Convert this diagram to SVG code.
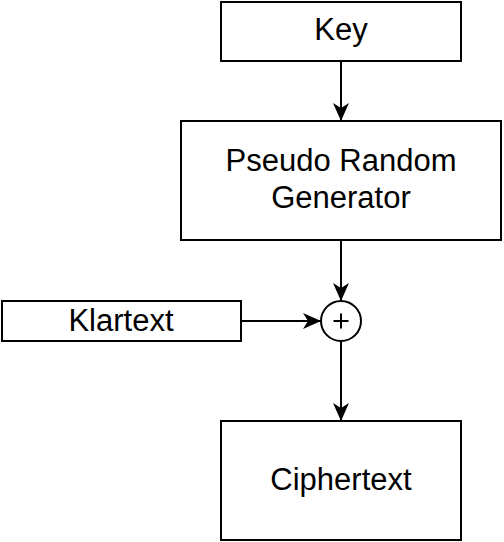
<svg xmlns="http://www.w3.org/2000/svg" width="504" height="542" viewBox="0 0 504 542">
<defs>
<style>
.box{fill:#fff;stroke:#000;stroke-width:2}
.lbl{font-family:"Liberation Sans",Arial,sans-serif;font-size:31px;fill:#000;text-anchor:middle}
.conn{fill:none;stroke:#000;stroke-width:2}
</style>
<marker id="arr" viewBox="0 0 18 16" refX="17" refY="8" markerWidth="18" markerHeight="16" markerUnits="userSpaceOnUse" orient="auto">
<path d="M0,0 L18,8 L0,16 L5,8 Z" fill="#000"/>
</marker>
</defs>
<rect width="504" height="542" fill="#fff"/>
<g id="connectors">
<line class="conn" x1="341" y1="61" x2="341" y2="120" marker-end="url(#arr)"/>
<line class="conn" x1="341" y1="240" x2="341" y2="300" marker-end="url(#arr)"/>
<line class="conn" x1="241" y1="321" x2="320" y2="321" marker-end="url(#arr)"/>
<line class="conn" x1="341" y1="342" x2="341" y2="420" marker-end="url(#arr)"/>
</g>
<g id="key">
<rect class="box" x="221" y="2" width="240" height="59"/>
<text class="lbl" x="341" y="40">Key</text>
</g>
<g id="prg">
<rect class="box" x="181" y="121" width="320" height="119"/>
<text class="lbl" x="341" y="171">Pseudo Random</text>
<text class="lbl" x="341" y="208">Generator</text>
</g>
<g id="klartext">
<rect class="box" x="2" y="301" width="239" height="40"/>
<text class="lbl" x="121" y="331">Klartext</text>
</g>
<g id="xor">
<circle class="box" cx="341" cy="321" r="20"/>
<path d="M333.5,321 H348.5 M341,313.5 V328.5" stroke="#000" stroke-width="2" fill="none"/>
</g>
<g id="ciphertext">
<rect class="box" x="221" y="421" width="240" height="119"/>
<text class="lbl" x="341" y="490">Ciphertext</text>
</g>
</svg>
